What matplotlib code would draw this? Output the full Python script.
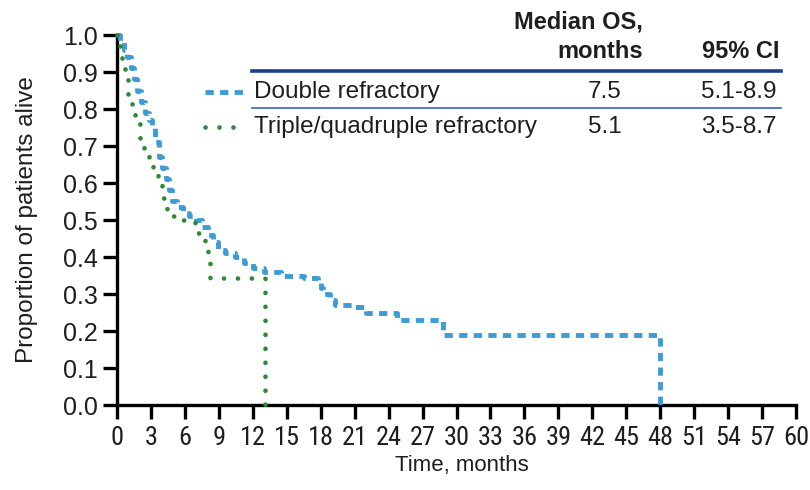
import matplotlib
matplotlib.use("Agg")
import matplotlib.pyplot as plt
from matplotlib.lines import Line2D
from matplotlib import font_manager

plt.rcParams['font.family'] = ['Liberation Sans', 'DejaVu Sans']
REGULAR = ['Liberation Sans', 'DejaVu Sans']

# Kaplan-Meier overall survival estimates (months, proportion alive)
double_t = [0, 0.3, 0.6, 0.9, 1.2, 1.5, 1.8, 2.1, 2.5, 2.8, 3.1, 3.4, 3.7, 4.0, 4.3,
            4.6, 4.9, 5.3, 5.8, 6.4, 7.0, 7.5, 8.0, 8.5, 8.9, 9.5, 10.4, 11.2, 12.0,
            13.0, 14.5, 16.5, 17.8, 18.0, 18.2, 18.8, 19.3, 20.8, 22.0, 24.7, 28.8, 48.0]
double_s = [1.0, 0.98, 0.96, 0.94, 0.91, 0.88, 0.85, 0.82, 0.79, 0.77, 0.75, 0.71, 0.67,
            0.64, 0.61, 0.58, 0.55, 0.535, 0.52, 0.51, 0.50, 0.48, 0.46, 0.44, 0.42, 0.41,
            0.40, 0.385, 0.37, 0.36, 0.35, 0.343, 0.33, 0.315, 0.30, 0.285, 0.27, 0.265,
            0.25, 0.23, 0.19, 0.0]

triple_t = [0, 0.1, 0.4, 0.7, 1.0, 1.3, 1.6, 2.0, 2.4, 2.8, 3.2, 3.6, 4.0, 4.4, 4.8,
            5.1, 6.9, 7.2, 7.5, 7.8, 8.0, 8.2, 13.1]
triple_s = [1.0, 0.97, 0.93, 0.88, 0.84, 0.80, 0.76, 0.72, 0.69, 0.66, 0.63, 0.60, 0.56,
            0.53, 0.51, 0.50, 0.48, 0.465, 0.45, 0.43, 0.39, 0.343, 0.0]

groups = ["Double refractory", "Triple/quadruple refractory"]
median_os = ["7.5", "5.1"]
ci_95 = ["5.1-8.9", "3.5-8.7"]

x_ticks = list(range(0, 61, 3))
y_ticks = [round(0.1 * i, 1) for i in range(11)]

blue = "#3d9bd6"
green = "#2f8a36"
navy = "#1d3f8f"
rule_blue = "#2f62c0"
ink = "#1e1e1e"

# a condensed face for the crowded month labels, if one is installed
installed = {f.name for f in font_manager.fontManager.ttflist}
narrow = None
for cand in ["Liberation Sans Narrow", "Roboto Condensed", "Open Sans Condensed",
             "DejaVu Sans Condensed", "Noto Sans Condensed"]:
    if cand in installed:
        narrow = cand
        break
if narrow:
    xtick_font = dict(family=[narrow] + REGULAR, fontsize=19)
else:
    xtick_font = dict(family=REGULAR, fontsize=15)

W, H = 810, 490
fig = plt.figure(figsize=(W / 100, H / 100), dpi=100)
ax = fig.add_axes([117 / W, 1 - 405 / H, (796 - 117) / W, (405 - 35) / H])

blue_style = dict(color=blue, lw=3.5, linestyle=(0, (1.7, 1.3)), dash_capstyle='butt')
green_style = dict(color=green, lw=3.4, linestyle=(0, (0.01, 2.95)), dash_capstyle='round')

ax.step(double_t, double_s, where='post', clip_on=False, zorder=3, **blue_style)
ax.step(triple_t, triple_s, where='post', clip_on=False, zorder=4, **green_style)

ax.set_xlim(0, 60)
ax.set_ylim(0, 1.0)
ax.set_xticks(x_ticks)
ax.set_xticklabels([str(v) for v in x_ticks], **xtick_font)
ax.set_yticks(y_ticks)
ax.set_yticklabels([f"{v:.1f}" for v in y_ticks], fontsize=18, family=REGULAR)
for side in ("top", "right"):
    ax.spines[side].set_visible(False)
for side in ("left", "bottom"):
    ax.spines[side].set_linewidth(2.4)
ax.tick_params(axis='both', direction='out', length=10, width=2.4, color='black',
               labelcolor=ink)
ax.tick_params(axis='y', pad=4)
ax.tick_params(axis='x', pad=5)
ax.set_ylabel("Proportion of patients alive", fontsize=17.5, family=REGULAR, color=ink,
              labelpad=18)
ax.set_xlabel("Time, months", fontsize=16, family=REGULAR, color=ink, labelpad=6)
ax.xaxis.set_label_coords(0.508, -0.135)


def fx(px):
    return px / W


def fy(py):
    return 1 - py / H


# Summary table in the upper right
head = dict(fontsize=17, fontweight='bold', color=ink, va='center', family=REGULAR)
fig.text(fx(643), fy(22), "Median OS,", ha='right', **head)
fig.text(fx(643), fy(51), "months", ha='right', **head)
fig.text(fx(780), fy(51), "95% CI", ha='right', **head)
fig.add_artist(Line2D([fx(252), fx(781)], [fy(71), fy(71)], color=navy, lw=2.6))
fig.add_artist(Line2D([fx(252), fx(781)], [fy(108), fy(108)], color=rule_blue, lw=1.2))

row_y = [92, 127]
styles = [blue_style, green_style]
cell = dict(fontsize=17.5, color=ink, va='center', family=REGULAR)
for name, med, ci, ry, st in zip(groups, median_os, ci_95, row_y, styles):
    fig.add_artist(Line2D([fx(205), fx(246)], [fy(ry), fy(ry)], **st))
    fig.text(fx(254), fy(ry), name, ha='left', **cell)
    fig.text(fx(605), fy(ry), med, ha='center', **cell)
    fig.text(fx(777), fy(ry), ci, ha='right', **cell)

fig.savefig("out.png", dpi=100)
